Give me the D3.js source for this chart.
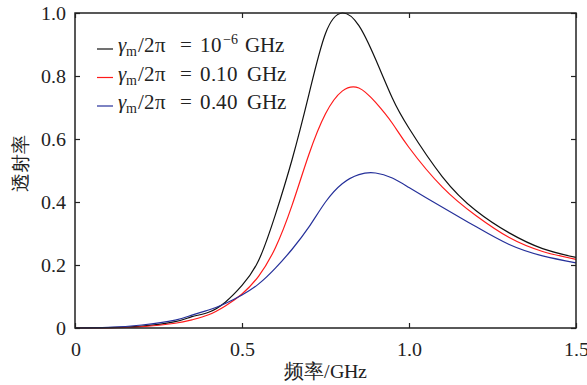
<!DOCTYPE html>
<html>
<head>
<meta charset="utf-8">
<script src="https://cdn.jsdelivr.net/npm/d3@7"></script>
<style>
  @font-face { font-family: "PlotSerif"; font-style: normal;
    src: local("Liberation Serif"), local("LiberationSerif"), local("LiberationSerif-Regular"), local("Times New Roman"); }
  @font-face { font-family: "PlotSerif"; font-style: italic;
    src: local("Liberation Serif Italic"), local("LiberationSerif-Italic"), local("Times New Roman Italic"); }
  body { margin: 0; background: #fff; }
  svg text, svg tspan { font-family: "PlotSerif", "Liberation Serif", "Times New Roman", monospace; }
</style>
</head>
<body>
<svg id="chart" width="587" height="385"></svg>
<script>
// frequency grid (GHz)
var freq = [0, 0.1, 0.2, 0.3, 0.35, 0.4, 0.45, 0.5, 0.55, 0.6, 0.65, 0.7, 0.75, 0.8,
            0.85, 0.9, 0.95, 1.0, 1.1, 1.2, 1.3, 1.4, 1.5];
// transmission for each gamma_m
var transBlack = [0, 0.001, 0.006, 0.020, 0.036, 0.050, 0.082, 0.135, 0.215, 0.36, 0.535, 0.74, 0.935, 1.0,
                  0.96, 0.853, 0.73, 0.634, 0.48, 0.373, 0.302, 0.252, 0.224];
var transRed = [0, 0.0005, 0.004, 0.015, 0.026, 0.042, 0.07, 0.108, 0.165, 0.255, 0.39, 0.55, 0.68, 0.752,
                0.762, 0.716, 0.65, 0.573, 0.447, 0.357, 0.287, 0.243, 0.218];
var transBlue = [0, 0.002, 0.0095, 0.025, 0.041, 0.057, 0.078, 0.105, 0.14, 0.19, 0.25, 0.32, 0.40, 0.458,
                 0.487, 0.492, 0.476, 0.446, 0.383, 0.322, 0.265, 0.229, 0.207];
var seriesNames = ["10", "0.10", "0.40"];
var seriesColors = ["#111111", "#ff1a1a", "#25309a"];
var xTicks = [0, 0.5, 1.0, 1.5];
var xTickLabels = ["0", "0.5", "1.0", "1.5"];
var yTicks = [0, 0.2, 0.4, 0.6, 0.8, 1.0];
var yTickLabels = ["0", "0.2", "0.4", "0.6", "0.8", "1.0"];

var svg = d3.select("#chart");
var margin = {left: 75, right: 11, top: 13, bottom: 57};
var width = 587 - margin.left - margin.right;
var height = 385 - margin.top - margin.bottom;

var x = d3.scaleLinear().domain([0, 1.5]).range([0, width]);
var y = d3.scaleLinear().domain([0, 1.0]).range([height, 0]);

var g = svg.append("g")
    .attr("transform", "translate(" + margin.left + "," + margin.top + ")");

// curves
var allSeries = [transBlack, transRed, transBlue];
var line = d3.line()
    .x(d => x(d[0]))
    .y(d => y(d[1]))
    .curve(d3.curveNatural);

allSeries.forEach(function(vals, i) {
  g.append("path")
      .datum(freq.map((f, j) => [f, vals[j]]))
      .attr("fill", "none")
      .attr("stroke", seriesColors[i])
      .attr("stroke-width", 1.2)
      .attr("d", line);
});

// axes, ticks pointing inwards
g.append("g")
    .attr("transform", "translate(0," + height + ")")
    .call(d3.axisBottom(x).tickValues(xTicks)
      .tickFormat((d, i) => xTickLabels[i]).tickSizeInner(-5).tickSizeOuter(0).tickPadding(14));
g.append("g")
    .call(d3.axisLeft(y).tickValues(yTicks)
      .tickFormat((d, i) => yTickLabels[i]).tickSizeInner(-5).tickSizeOuter(0).tickPadding(9));
g.append("g")
    .call(d3.axisTop(x).tickValues(xTicks).tickFormat("").tickSizeInner(-5).tickSizeOuter(0));
g.append("g")
    .attr("transform", "translate(" + width + ",0)")
    .call(d3.axisRight(y).tickValues(yTicks).tickFormat("").tickSizeInner(-5).tickSizeOuter(0));

g.selectAll(".domain").remove();
g.selectAll("g").attr("font-family", null);
g.selectAll(".tick line").attr("stroke", "#222").attr("stroke-width", 1.2);
g.selectAll(".tick text")
    .style("font-size", "20px")
    .attr("fill", "#222");

g.append("rect")
    .attr("width", width)
    .attr("height", height)
    .attr("fill", "none")
    .attr("stroke", "#222")
    .attr("stroke-width", 1.5);

// axis titles
svg.append("text")
    .attr("x", margin.left + width / 2)
    .attr("y", 378)
    .attr("text-anchor", "middle")
    .attr("fill", "#222")
    .style("font-size", "20px")
    .text("频率/GHz");

svg.append("text")
    .attr("transform", "translate(27,163) rotate(-90)")
    .attr("text-anchor", "middle")
    .attr("fill", "#222")
    .style("font-size", "19px")
    .text("透射率");

// legend
var legend = svg.append("g").attr("transform", "translate(97,52)");
seriesNames.forEach(function(name, i) {
  var row = legend.append("g").attr("transform", "translate(0," + (i * 28.5) + ")");
  row.append("line")
      .attr("x1", 0).attr("x2", 16)
      .attr("y1", -3).attr("y2", -3)
      .attr("stroke", seriesColors[i])
      .attr("stroke-width", 1.2);
  var t = row.append("text")
      .attr("fill", "#222")
      .style("font-size", "21px");
  t.append("tspan").attr("x", 21).style("font-style", "italic").text("γ");
  t.append("tspan").attr("dy", 4).style("font-size", "14px").text("m");
  t.append("tspan").attr("dy", -4).attr("dx", 1).text("/2π");
  t.append("tspan").attr("x", 83).text("=");
  t.append("tspan").attr("x", 103).text(name);
  if (i === 0) {
    t.append("tspan").attr("dy", -8).attr("dx", 1).style("font-size", "14px").text("−6");
    t.append("tspan").attr("dy", 8).attr("dx", 7).text("GHz");
  } else {
    t.append("tspan").attr("dx", 9).text("GHz");
  }
});
</script>
</body>
</html>
